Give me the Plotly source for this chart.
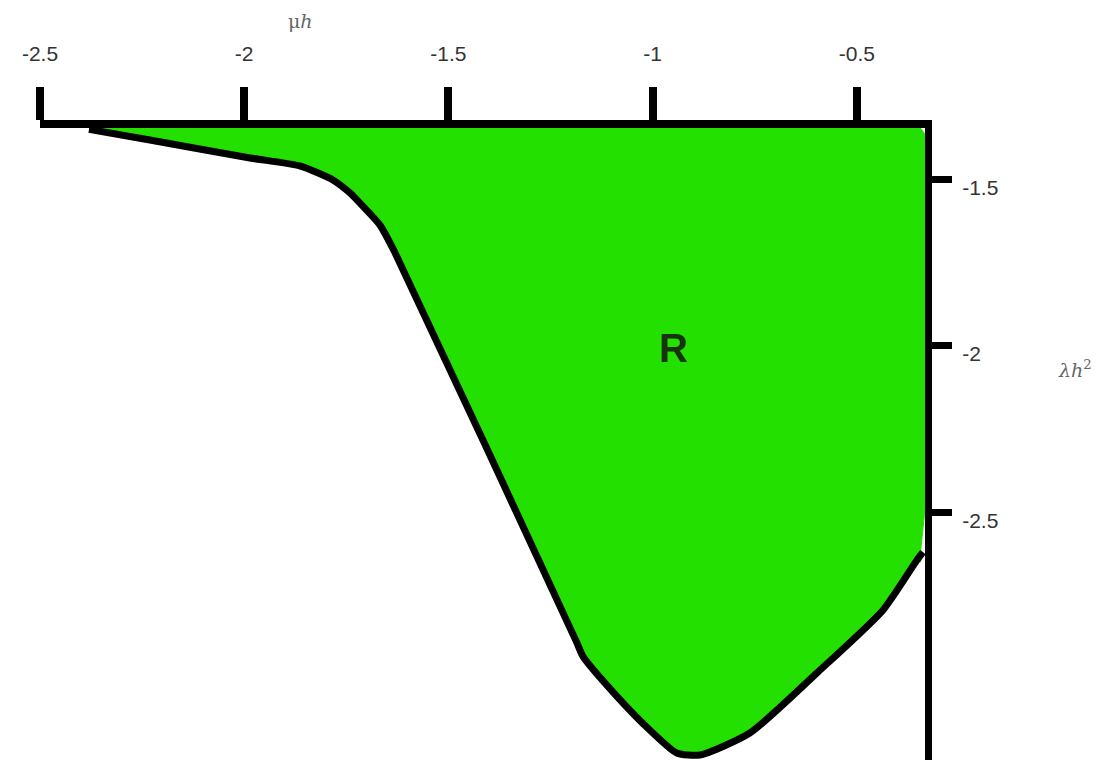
import plotly.graph_objects as go

# boundary of region R (mu*h, lambda*h^2)
mu_edge = [-2.380, -2.231, -1.986, -1.864, -1.783, -1.741, -1.717, -1.668,
           -1.631, -1.185, -1.171, -1.088, -1.007, -0.941, -0.884, -0.762,
           -0.598, -0.436, -0.353, -0.338]
lam_edge = [-1.350, -1.382, -1.436, -1.460, -1.502, -1.541, -1.571, -1.637,
            -1.720, -2.893, -2.932, -3.052, -3.154, -3.223, -3.229, -3.163,
            -2.983, -2.794, -2.644, -2.620]

# the region closes along the two axes
mu_close = [-0.345, -0.345, -2.380]
lam_close = [-2.650, -1.346, -1.346]

x_ticks = [-2.5, -2, -1.5, -1, -0.5]
x_ticktext = ['-2.5', '-2', '-1.5', '-1', '-0.5']
y_ticks = [-1.5, -2, -2.5]
y_ticktext = ['-1.5', '-2', '-2.5']

green = '#24e000'

fig = go.Figure()
fig.add_trace(go.Scatter(x=mu_edge + mu_close, y=lam_edge + lam_close, mode='lines',
                         fill='toself', fillcolor=green,
                         line=dict(color=green, width=1, shape='spline', smoothing=0.6),
                         hoverinfo='skip', showlegend=False))
fig.add_trace(go.Scatter(x=mu_edge, y=lam_edge, mode='lines',
                         line=dict(color='black', width=7, shape='spline', smoothing=0.6),
                         hoverinfo='skip', showlegend=False))

fig.add_annotation(x=-0.95, y=-2.007, text='<b>R</b>', showarrow=False,
                   font=dict(family='Liberation Sans', size=40, color='#17320c'))
fig.add_annotation(xref='paper', yref='paper', x=0.294, y=1.170, xanchor='center', yanchor='middle',
                   text='μ<i>h</i>', showarrow=False,
                   font=dict(family='DejaVu Serif', size=19, color='#666666'))
fig.add_annotation(xref='paper', yref='paper', x=1.169, y=0.619, xanchor='center', yanchor='middle',
                   text='<i>λh</i><sup>2</sup>', showarrow=False,
                   font=dict(family='DejaVu Serif', size=19, color='#666666'))

tickfont = dict(family='Liberation Sans', size=21, color='#333333')
fig.update_xaxes(range=[-2.5, -0.333], side='top', tickvals=x_ticks, ticktext=x_ticktext,
                 showline=True, linewidth=8, linecolor='black', mirror=False,
                 ticks='outside', ticklen=33, tickwidth=8, tickcolor='black',
                 ticklabelstandoff=18, tickfont=tickfont,
                 showgrid=False, zeroline=False)
fig.update_yaxes(range=[-3.244, -1.346], side='right', tickvals=y_ticks, ticktext=y_ticktext,
                 showline=True, linewidth=7, linecolor='black', mirror=False,
                 ticks='outside', ticklen=20, tickwidth=7, tickcolor='black',
                 ticklabelstandoff=6, ticklabelshift=8, tickfont=tickfont,
                 showgrid=False, zeroline=False)
fig.update_layout(width=1109, height=767, plot_bgcolor='white', paper_bgcolor='white',
                  margin=dict(l=32, r=192, t=120, b=15))
fig.write_html("out.html")
